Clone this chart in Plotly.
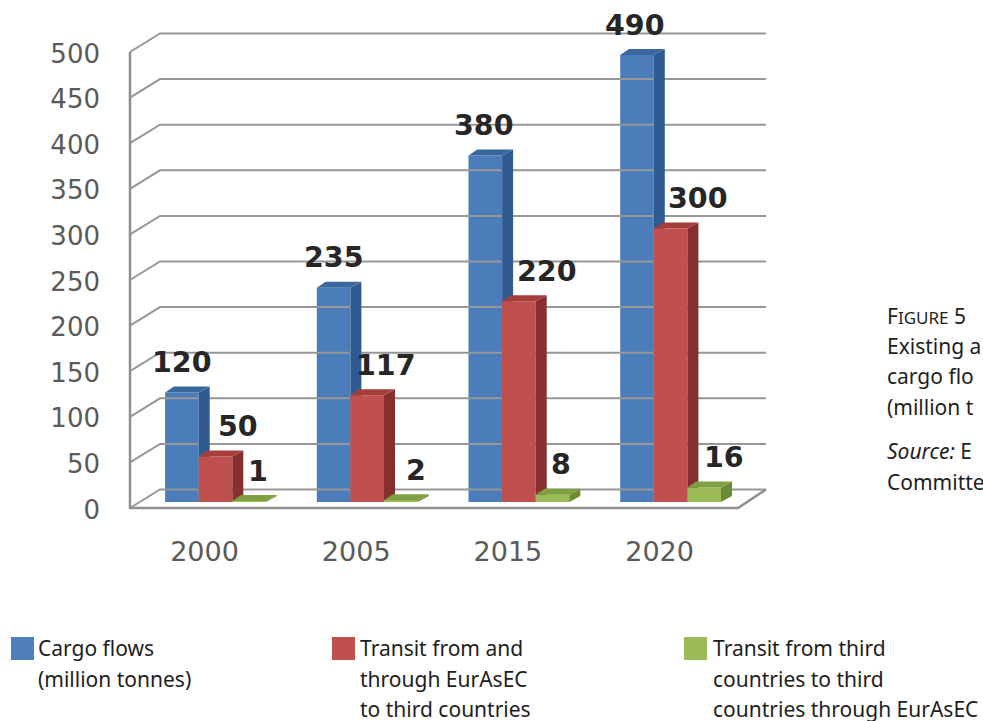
import plotly.graph_objects as go

# ---------- data ----------
categories = ["2000", "2005", "2015", "2020"]
cargo_flows = [120, 235, 380, 490]
transit_from_through = [50, 117, 220, 300]
transit_third = [1, 2, 8, 16]
y_ticks = [0, 50, 100, 150, 200, 250, 300, 350, 400, 450, 500]
legend_blue = ["Cargo flows", "(million tonnes)"]
legend_red = ["Transit from and", "through EurAsEC", "to third countries"]
legend_green = ["Transit from third", "countries to third", "countries through EurAsEC"]
caption_lines = ["Existing a", "cargo flo", "(million t"]
source_lines = ["E", "Committe"]

# ---------- geometry ----------
W, H = 983, 721
PX_GROUP = 151.7      # pixels between category groups
PX_ORIGIN = 215.5     # pixel of the first group's centre
PX_VALUE = 0.912      # pixels per value unit
PX_BASE = 502         # pixel row of value 0 on bar fronts
FRONT_DROP = 6        # front wall zero sits below the bar base
BACK_RISE = 12.5      # back wall zero sits above the bar base
BAR_W = 33.6 / PX_GROUP
DX, DY = 11 / PX_GROUP, 6 / PX_VALUE

def gx(p):
    return (p - PX_ORIGIN) / PX_GROUP

front = lambda v: v - FRONT_DROP / PX_VALUE
back = lambda v: v + BACK_RISE / PX_VALUE

x_range = [gx(0), gx(W)]
y_range = [(PX_BASE - H) / PX_VALUE, PX_BASE / PX_VALUE]

AX_L, AX_BL, AX_BR, AX_FR = gx(130), gx(160), gx(766), gx(738)
GRID = "#979797"
TICK = "#5a5a5a"
DARK = "#262626"
TEXT = "#1e1e1e"
BODY = "Noto Sans"

fig = go.Figure()

# walls and floor
gx_pts, gy_pts = [], []
for t in y_ticks:
    gx_pts += [AX_L, AX_BL, AX_BR, None]
    gy_pts += [front(t), back(t), back(t), None]
fig.add_trace(go.Scatter(x=gx_pts, y=gy_pts, mode="lines",
                         line=dict(color=GRID, width=2), hoverinfo="skip", showlegend=False))
fig.add_trace(go.Scatter(x=[AX_L, AX_L, AX_FR, AX_BR],
                         y=[front(y_ticks[-1]), front(0), front(0), back(0)],
                         mode="lines", line=dict(color="#8f8f8f", width=2.5),
                         hoverinfo="skip", showlegend=False))

series = [
    ("Cargo flows", cargo_flows, -1, "#4b7dbb", "#2f5b92", "#38689f", ""),
    ("Transit from and through EurAsEC to third countries", transit_from_through, 0,
     "#c0504d", "#85302e", "#a53e3b", "2"),
    ("Transit from third countries to third countries through EurAsEC", transit_third, 1,
     "#9bbb59", "#6c8a38", "#7f9f43", "3"),
]

for name, values, slot, c_front, c_side, c_top, ax in series:
    xs = [i + slot * BAR_W for i in range(len(values))]
    fig.add_trace(go.Bar(x=xs, y=values, width=BAR_W, name=name, marker=dict(color=c_front, line_width=0),
                         xaxis="x" + ax, yaxis="y" + ax, showlegend=False))
    for x, v in zip(xs, values):
        l, r = x - BAR_W / 2, x + BAR_W / 2
        fig.add_trace(go.Scatter(x=[r, r + DX, r + DX, r, r], y=[0, DY, v + DY, v, 0],
                                 fill="toself", fillcolor=c_side, mode="none",
                                 hoverinfo="skip", showlegend=False, xaxis="x" + ax, yaxis="y" + ax))
        fig.add_trace(go.Scatter(x=[l, l + DX * 0.8, r + DX, r, l], y=[v, v + DY, v + DY, v, v],
                                 fill="toself", fillcolor=c_top, mode="none",
                                 hoverinfo="skip", showlegend=False, xaxis="x" + ax, yaxis="y" + ax))

annotations = []
def note(x, y, text, size, color, xanchor="left", xref="paper", yref="paper", xshift=0, yshift=0, family=BODY):
    annotations.append(dict(x=x, y=y, xref=xref, yref=yref, text=text, showarrow=False,
                            xanchor=xanchor, yanchor="middle", xshift=xshift, yshift=yshift,
                            font=dict(family=family, size=size, color=color)))

# value labels
label_dx = {-1: [0, 0, -1, -2], 0: [22, 19, 28, 27], 1: [9, 15, 8, 20]}
for name, values, slot, *_ in series:
    for i, v in enumerate(values):
        note(i + slot * BAR_W, v, f"<b>{v}</b>", 28.5, DARK, "center", "x", "y",
             xshift=label_dx[slot][i], yshift=30, family="DejaVu Sans")

# legend
shapes = []
def px_p(p):
    return p / W
def py_p(p):
    return 1 - p / H
legend_cols = [(11, 36, "#4f7fbc", legend_blue), (332, 358, "#c0504d", legend_red), (684, 711, "#9bbb59", legend_green)]
for sw, tx, col, lines in legend_cols:
    shapes.append(dict(type="rect", xref="paper", yref="paper", x0=px_p(sw), x1=px_p(sw + 23),
                       y0=py_p(637), y1=py_p(660), fillcolor=col, line_width=0))
    for k, line in enumerate(lines):
        note(px_p(tx), py_p(648 + 30.5 * k), line, 21, TEXT)

# caption
note(px_p(885), py_p(315.5), 'F<span style="font-size:17px">IGURE</span> 5', 21, TEXT)
for k, line in enumerate(caption_lines):
    note(px_p(885), py_p(345.5 + 30.7 * k), line, 21, TEXT)
note(px_p(885), py_p(451), "<i>Source:</i> " + source_lines[0], 21, TEXT)
note(px_p(885), py_p(482), source_lines[1], 21, TEXT)

axis_off = dict(range=x_range, visible=False, fixedrange=True)
y_off = dict(range=y_range, visible=False, fixedrange=True)
fig.update_layout(
    width=W, height=H, margin=dict(l=0, r=0, t=0, b=0, autoexpand=False),
    paper_bgcolor="white", plot_bgcolor="white", barmode="overlay", showlegend=False,
    shapes=shapes, annotations=annotations,
    xaxis=dict(range=x_range, domain=[0, 1], anchor="free", position=1 - 533 / H,
               tickmode="array", tickvals=[i - 11 / PX_GROUP for i in range(len(categories))],
               ticktext=categories, showgrid=False, zeroline=False, showline=False, ticks="",
               tickfont=dict(family="DejaVu Sans", size=27, color=TICK), fixedrange=True),
    yaxis=dict(range=y_range, domain=[0, 1], anchor="free", position=100 / W,
               tickmode="array", tickvals=[front(t) - 1.5 / PX_VALUE for t in y_ticks],
               ticktext=[str(t) for t in y_ticks],
               showgrid=False, zeroline=False, showline=False, ticks="",
               tickfont=dict(family="DejaVu Sans", size=26, color=TICK), fixedrange=True),
    xaxis2=dict(axis_off, overlaying="x"),
    yaxis2=dict(y_off, overlaying="y"),
    xaxis3=dict(axis_off, overlaying="x"),
    yaxis3=dict(y_off, overlaying="y"),
)
fig.write_html("out.html", config={"displayModeBar": False},
               post_script="document.body.style.margin='0';document.documentElement.style.overflow='hidden';")
